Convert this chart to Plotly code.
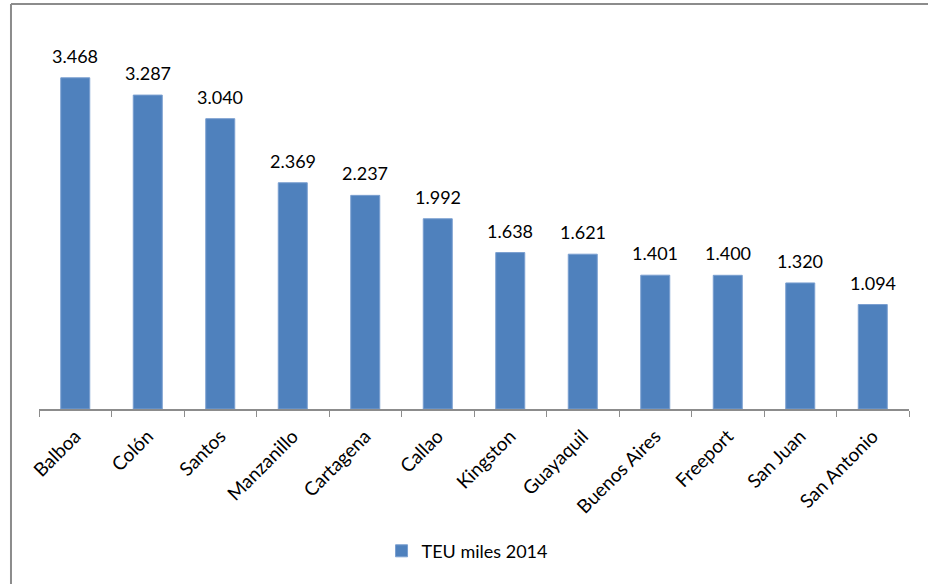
import plotly.graph_objects as go

# Puertos y movimiento de contenedores (miles de TEU, 2014)
ports = ["Balboa", "Colón", "Santos", "Manzanillo", "Cartagena", "Callao",
         "Kingston", "Guayaquil", "Buenos Aires", "Freeport", "San Juan", "San Antonio"]
teu_2014 = [3.468, 3.287, 3.040, 2.369, 2.237, 1.992,
            1.638, 1.621, 1.401, 1.400, 1.320, 1.094]
value_labels = ["3.468", "3.287", "3.040", "2.369", "2.237", "1.992",
                "1.638", "1.621", "1.401", "1.400", "1.320", "1.094"]

fig = go.Figure()

fig.add_trace(
    go.Bar(
        x=ports,
        y=teu_2014,
        name="TEU miles 2014",
        marker=dict(color="#4F81BD", line=dict(color="#7A9FD0", width=1)),
        cliponaxis=False,
    )
)

# data labels above each bar, a little higher than plotly's default gap
for port, val, lab in zip(ports, teu_2014, value_labels):
    fig.add_annotation(
        x=port, y=val, text=lab,
        showarrow=False, yanchor="bottom", yshift=9,
        font=dict(size=18, color="#000000"),
    )

# chart border (like an Excel chart frame)
fig.add_shape(type="line", xref="paper", yref="paper",
              x0=-0.0322, x1=1.1, y0=1.0602, y1=1.0602,
              line=dict(color="#8C8C8C", width=2))
fig.add_shape(type="line", xref="paper", yref="paper",
              x0=-0.0322, x1=-0.0322, y0=1.0602, y1=-0.6,
              line=dict(color="#8C8C8C", width=2))

fig.update_layout(
    width=928,
    height=584,
    margin=dict(l=39, r=19, t=27, b=175),
    paper_bgcolor="white",
    plot_bgcolor="white",
    font=dict(family="Lato, Calibri, sans-serif", size=16, color="#000000"),
    bargap=0.6,
    showlegend=True,
    legend=dict(
        orientation="h",
        x=0.492, xanchor="center",
        y=-0.372, yanchor="middle",
        font=dict(size=18),
    ),
    xaxis=dict(
        tickangle=-45,
        showline=True,
        linecolor="#8C8C8C",
        linewidth=1.5,
        ticks="outside",
        tickson="boundaries",
        ticklen=6,
        tickcolor="#8C8C8C",
        tickfont=dict(size=19),
        ticklabelstandoff=7,
        showgrid=False,
    ),
    yaxis=dict(
        range=[0, 4],
        visible=False,
        showgrid=False,
    ),
)

fig.write_html("out.html", config={"displayModeBar": False},
               post_script="document.body.style.margin='0px';")
